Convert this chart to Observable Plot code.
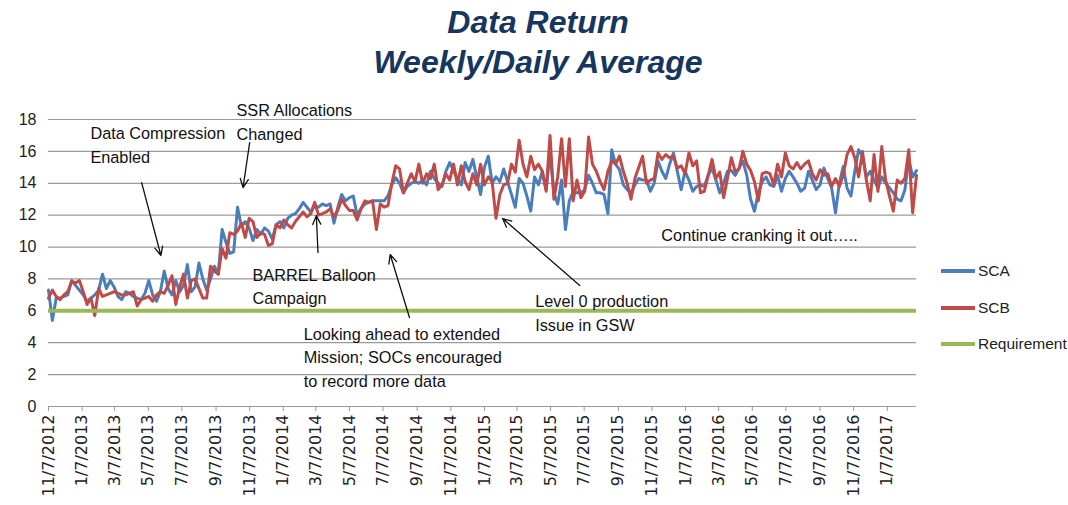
<!DOCTYPE html>
<html>
<head>
<meta charset="utf-8">
<script src="https://cdn.jsdelivr.net/npm/d3@7"></script>
<script src="https://cdn.jsdelivr.net/npm/@observablehq/plot@0.6"></script>
<style>
  body { margin: 0; background: #fff; }
  #wrap { position: relative; width: 1068px; height: 505px; overflow: hidden; background: #fff; }
  #title { position: absolute; top: 0; left: 0; width: 1076px; text-align: center;
           font-family: "Liberation Sans", Arial, sans-serif; font-style: italic; font-weight: bold;
           font-size: 32px; line-height: 40px; color: #17365D; padding-top: 2px; }
  #chart { position: absolute; top: 80px; left: 0; }
  #legend { position: absolute; left: 941px; top: 0; font-family: "Liberation Sans", Arial, sans-serif; font-size: 15.5px; color: #222; }
  .li { position: absolute; left: 0; white-space: nowrap; display: flex; align-items: center; }
  .sw { display: inline-block; width: 34px; height: 4px; margin-right: 3px; }
</style>
</head>
<body>
<div id="wrap">
  <div id="title">Data Return<br>Weekly/Daily Average</div>
  <div id="chart"></div>
  <div id="legend"></div>
</div>
<script>
// ---- data ----
const startDate = "2012-11-07"; // first weekly sample
const seriesNames = ["SCA", "SCB", "Requirement"];
const seriesColors = ["#4A7EBB", "#BE4B48", "#98B954"];
const requirement = 6;

const sca = [
  7.3, 5.4, 6.8, 6.8, 6.9, 7.0, 7.9, 7.6, 7.3, 7.0, 6.6, 6.8, 7.0, 7.3, 8.3, 7.4, 7.9, 7.5, 6.9, 6.7, 7.2, 7.1, 6.9, 6.8, 6.7, 7.1, 7.9, 7.0, 6.6, 7.2, 8.5,
  7.4, 7.0, 7.9, 7.2, 7.6, 8.9, 7.2, 7.5, 9.0, 8.0, 7.3, 8.0, 8.8, 8.3, 11.1, 10.3, 9.6, 9.7, 12.5, 11.3, 11.6, 11.2, 10.4, 11.1, 10.8, 11.2, 11.0, 10.5, 11.4, 11.6,
  11.2, 11.8, 12.0, 12.1, 12.4, 12.8, 12.5, 12.2, 12.6, 12.5, 12.7, 12.6, 12.7, 11.5, 12.5, 13.3, 12.9, 13.1, 13.2, 12.0,
  12.4, 12.7, 12.8, 12.9, 12.9, 12.9, 12.9, 13.2, 13.9, 14.35, 14.0, 13.4, 13.8, 14.0, 14.1,
  14.0, 14.2, 13.9, 14.75, 14.3, 14.0, 13.8, 14.75, 15.3, 14.8, 14.3, 13.9, 15.3, 14.75, 15.5, 14.4, 13.3, 15.0, 15.7, 14.0, 14.4, 14.1, 14.9, 14.1, 13.3, 12.5, 14.3, 14.0, 13.2, 12.25, 14.4, 13.9, 14.75, 13.6,
  15.9, 13.4, 12.7, 14.2, 11.1, 12.9, 13.5, 13.4, 13.4, 13.6, 14.5, 14.0, 13.4, 13.4, 13.3, 12.1, 16.1, 15.2, 14.85, 13.9, 13.6, 13.4, 13.9, 14.3, 14.2, 14.2, 13.5, 14.0, 15.4, 14.75, 14.3,
  15.2, 15.9, 14.75, 13.6, 14.75, 14.2, 13.5, 13.8, 13.9, 13.8, 14.5, 14.95, 14.2, 13.4, 14.0, 14.75, 14.8, 14.5, 14.95, 15.4, 14.5, 13.0, 12.25, 13.4, 14.1, 14.4, 13.9, 13.8, 14.5, 13.5, 14.3, 14.75, 14.4, 14.0,
  13.5, 13.7, 14.75, 14.2, 13.6, 13.9, 14.95, 14.3, 13.7, 12.15, 14.0, 15.05, 13.7, 13.2, 14.75, 16.1, 15.7, 14.4, 14.75, 14.2, 13.7, 14.4, 14.0, 13.7, 13.4, 13.0, 12.9, 13.6, 15.5, 14.4, 14.8
];

const scb = [
  6.8, 7.3, 6.9, 6.7, 7.0, 7.2, 7.85, 7.75, 7.9, 7.2, 6.4, 6.8, 5.7, 7.4, 6.9, 7.0, 7.1, 7.2, 7.1, 7.0, 7.0, 7.1, 7.2, 6.3, 6.7, 6.8, 6.9, 6.6, 7.0, 7.2, 7.1, 7.6,
  8.2, 6.4, 7.5, 8.3, 6.8, 7.9, 8.0, 7.4, 6.8, 6.8, 8.8, 8.5, 8.3, 9.9, 9.3, 10.9, 10.8, 11.0, 11.5, 10.6, 11.8, 11.6, 10.6, 10.9, 10.8, 10.1, 10.2, 11.4, 11.2, 11.7,
  11.4, 11.2, 11.6, 11.9, 12.2, 11.9, 12.1, 12.8, 12.0, 12.1, 12.2, 12.4, 11.9, 12.3, 13.0, 12.6, 12.3, 12.3, 11.7,
  12.4, 12.9, 12.8, 12.9, 11.1, 12.7, 12.5, 12.6, 14.0, 15.1, 14.9, 13.4, 14.0, 14.6, 14.1,
  15.2, 14.0, 14.6, 14.3, 15.2, 13.6, 13.9, 14.6, 14.2, 15.2, 13.9, 15.1, 14.1, 13.6, 14.6, 13.9, 15.2, 13.9, 14.4, 14.1, 11.8, 13.3, 13.9, 14.0, 15.2, 14.7, 16.7, 15.2, 14.4, 15.7, 14.85, 15.2, 14.75, 13.5,
  17.0, 13.0, 14.4, 16.8, 13.8, 16.8, 12.9, 14.2, 13.1, 13.5, 16.9, 15.2, 14.75, 14.1, 13.6, 14.75, 15.4, 15.2, 15.7, 14.75, 14.0, 13.0, 14.3, 15.0, 15.7, 14.0, 14.2, 14.3, 15.9, 15.5, 15.8,
  15.6, 15.7, 14.95, 15.1, 14.6, 15.9, 15.1, 15.4, 13.4, 13.5, 14.5, 15.5, 14.3, 14.7, 13.1, 14.3, 15.6, 14.75, 14.9, 16.0, 15.2, 14.8, 14.1, 12.9, 14.6, 14.7, 14.6, 13.9, 15.2, 14.4, 15.9, 15.1, 14.9, 15.3,
  14.9, 15.2, 15.4, 14.6, 14.2, 14.85, 14.5, 14.6, 13.8, 14.3, 13.8, 14.5, 15.8, 16.3, 15.6, 14.4, 16.0, 14.2, 12.9, 15.8, 13.5, 16.3, 14.2, 13.2, 12.25, 14.2, 14.0, 14.3, 16.1, 12.15, 14.5
];

const xTickLabels = [
  "11/7/2012", "1/7/2013", "3/7/2013", "5/7/2013", "7/7/2013", "9/7/2013",
  "11/7/2013", "1/7/2014", "3/7/2014", "5/7/2014", "7/7/2014", "9/7/2014",
  "11/7/2014", "1/7/2015", "3/7/2015", "5/7/2015", "7/7/2015", "9/7/2015",
  "11/7/2015", "1/7/2016", "3/7/2016", "5/7/2016", "7/7/2016", "9/7/2016",
  "11/7/2016", "1/7/2017"
];
const yTicks = [0, 2, 4, 6, 8, 10, 12, 14, 16, 18];

// annotations (text, anchor date, anchor value at top of text block)
const noteTexts = [
  "Data Compression\nEnabled",
  "SSR Allocations\nChanged",
  "BARREL Balloon\nCampaign",
  "Looking ahead to extended\nMission; SOCs encouraged\nto record more data",
  "Level 0 production\nIssue in GSW",
  "Continue cranking it out….."
];
const noteDates = ["2013-01-22", "2013-10-14", "2013-11-12", "2014-02-13", "2015-04-09", "2015-11-24"];
const noteValues = [17.8, 19.25, 8.95, 5.25, 7.3, 11.4];

// arrows: from (date, value) to (date, value)
const arrowFromDates = ["2013-04-25", "2013-11-07", "2014-03-11", "2014-08-24", "2015-06-29"];
const arrowFromValues = [14.04, 16.55, 9.66, 5.58, 7.59];
const arrowToDates = ["2013-05-30", "2013-10-26", "2014-03-08", "2014-07-20", "2015-02-09"];
const arrowToValues = [9.47, 13.73, 11.97, 9.53, 11.79];

// ---- build ----
const t0 = new Date(startDate + "T00:00:00Z");
const rows = [];
sca.forEach((v, i) => rows.push({series: "SCA", date: d3.utcDay.offset(t0, 7 * i), value: v}));
scb.forEach((v, i) => rows.push({series: "SCB", date: d3.utcDay.offset(t0, 7 * i), value: v}));
const lastDate = d3.max(rows, d => d.date);

const parseMDY = s => { const [m, d, y] = s.split("/").map(Number); return new Date(Date.UTC(y, m - 1, d)); };
const xTicks = xTickLabels.map(parseMDY);
const fmt = d => `${d.getUTCMonth() + 1}/${d.getUTCDate()}/${d.getUTCFullYear()}`;
const toDate = s => new Date(s + "T00:00:00Z");

const notes = noteTexts.map((t, i) => ({text: t, date: toDate(noteDates[i]), value: noteValues[i]}));
const arrows = arrowFromDates.map((d, i) => ({
  x1: toDate(d), y1: arrowFromValues[i], x2: toDate(arrowToDates[i]), y2: arrowToValues[i]
}));

const font = '"Liberation Sans", Arial, sans-serif';

const chart = Plot.plot({
  width: 1068,
  height: 425,
  marginLeft: 48,
  marginRight: 152,
  marginTop: 39,
  marginBottom: 99,
  style: {fontFamily: font, background: "white", overflow: "visible"},
  x: {type: "utc", domain: [t0, lastDate]},
  y: {domain: [0, 18]},
  marks: [
    Plot.gridY(yTicks, {stroke: "#9a9a9a", strokeOpacity: 1, strokeWidth: 1.2}),
    Plot.axisY(yTicks, {tickSize: 0, tickPadding: 12, fontSize: 16, label: null, fill: "#222"}),
    Plot.axisX(xTicks, {
      tickSize: 5, tickPadding: 3, tickRotate: -90, tickFormat: fmt, label: null,
      fontSize: 16, fontFamily: '"DejaVu Sans", Verdana, sans-serif', stroke: "#9a9a9a", fill: "#222"
    }),
    Plot.line(rows.filter(d => d.series === "SCA"), {x: "date", y: "value", stroke: seriesColors[0], strokeWidth: 3, strokeLinejoin: "round"}),
    Plot.line(rows.filter(d => d.series === "SCB"), {x: "date", y: "value", stroke: seriesColors[1], strokeWidth: 3, strokeLinejoin: "round"}),
    Plot.ruleY([requirement], {stroke: seriesColors[2], strokeWidth: 4}),
    Plot.arrow(arrows, {x1: "x1", y1: "y1", x2: "x2", y2: "y2", stroke: "#111", strokeWidth: 1.3, headLength: 11, headAngle: 50}),
    Plot.text(notes, {x: "date", y: "value", text: "text", textAnchor: "start", lineAnchor: "top",
      lineHeight: 1.45, fontSize: 16.3, fill: "#111", fontFamily: font})
  ]
});
document.getElementById("chart").appendChild(chart);

// legend
const legendTops = [271, 308, 344];
const legend = document.getElementById("legend");
seriesNames.forEach((name, i) => {
  const div = document.createElement("div");
  div.className = "li";
  div.style.top = (legendTops[i] - 9) + "px";
  div.innerHTML = `<span class="sw" style="background:${seriesColors[i]}"></span><span>${name}</span>`;
  legend.appendChild(div);
});
</script>
</body>
</html>
